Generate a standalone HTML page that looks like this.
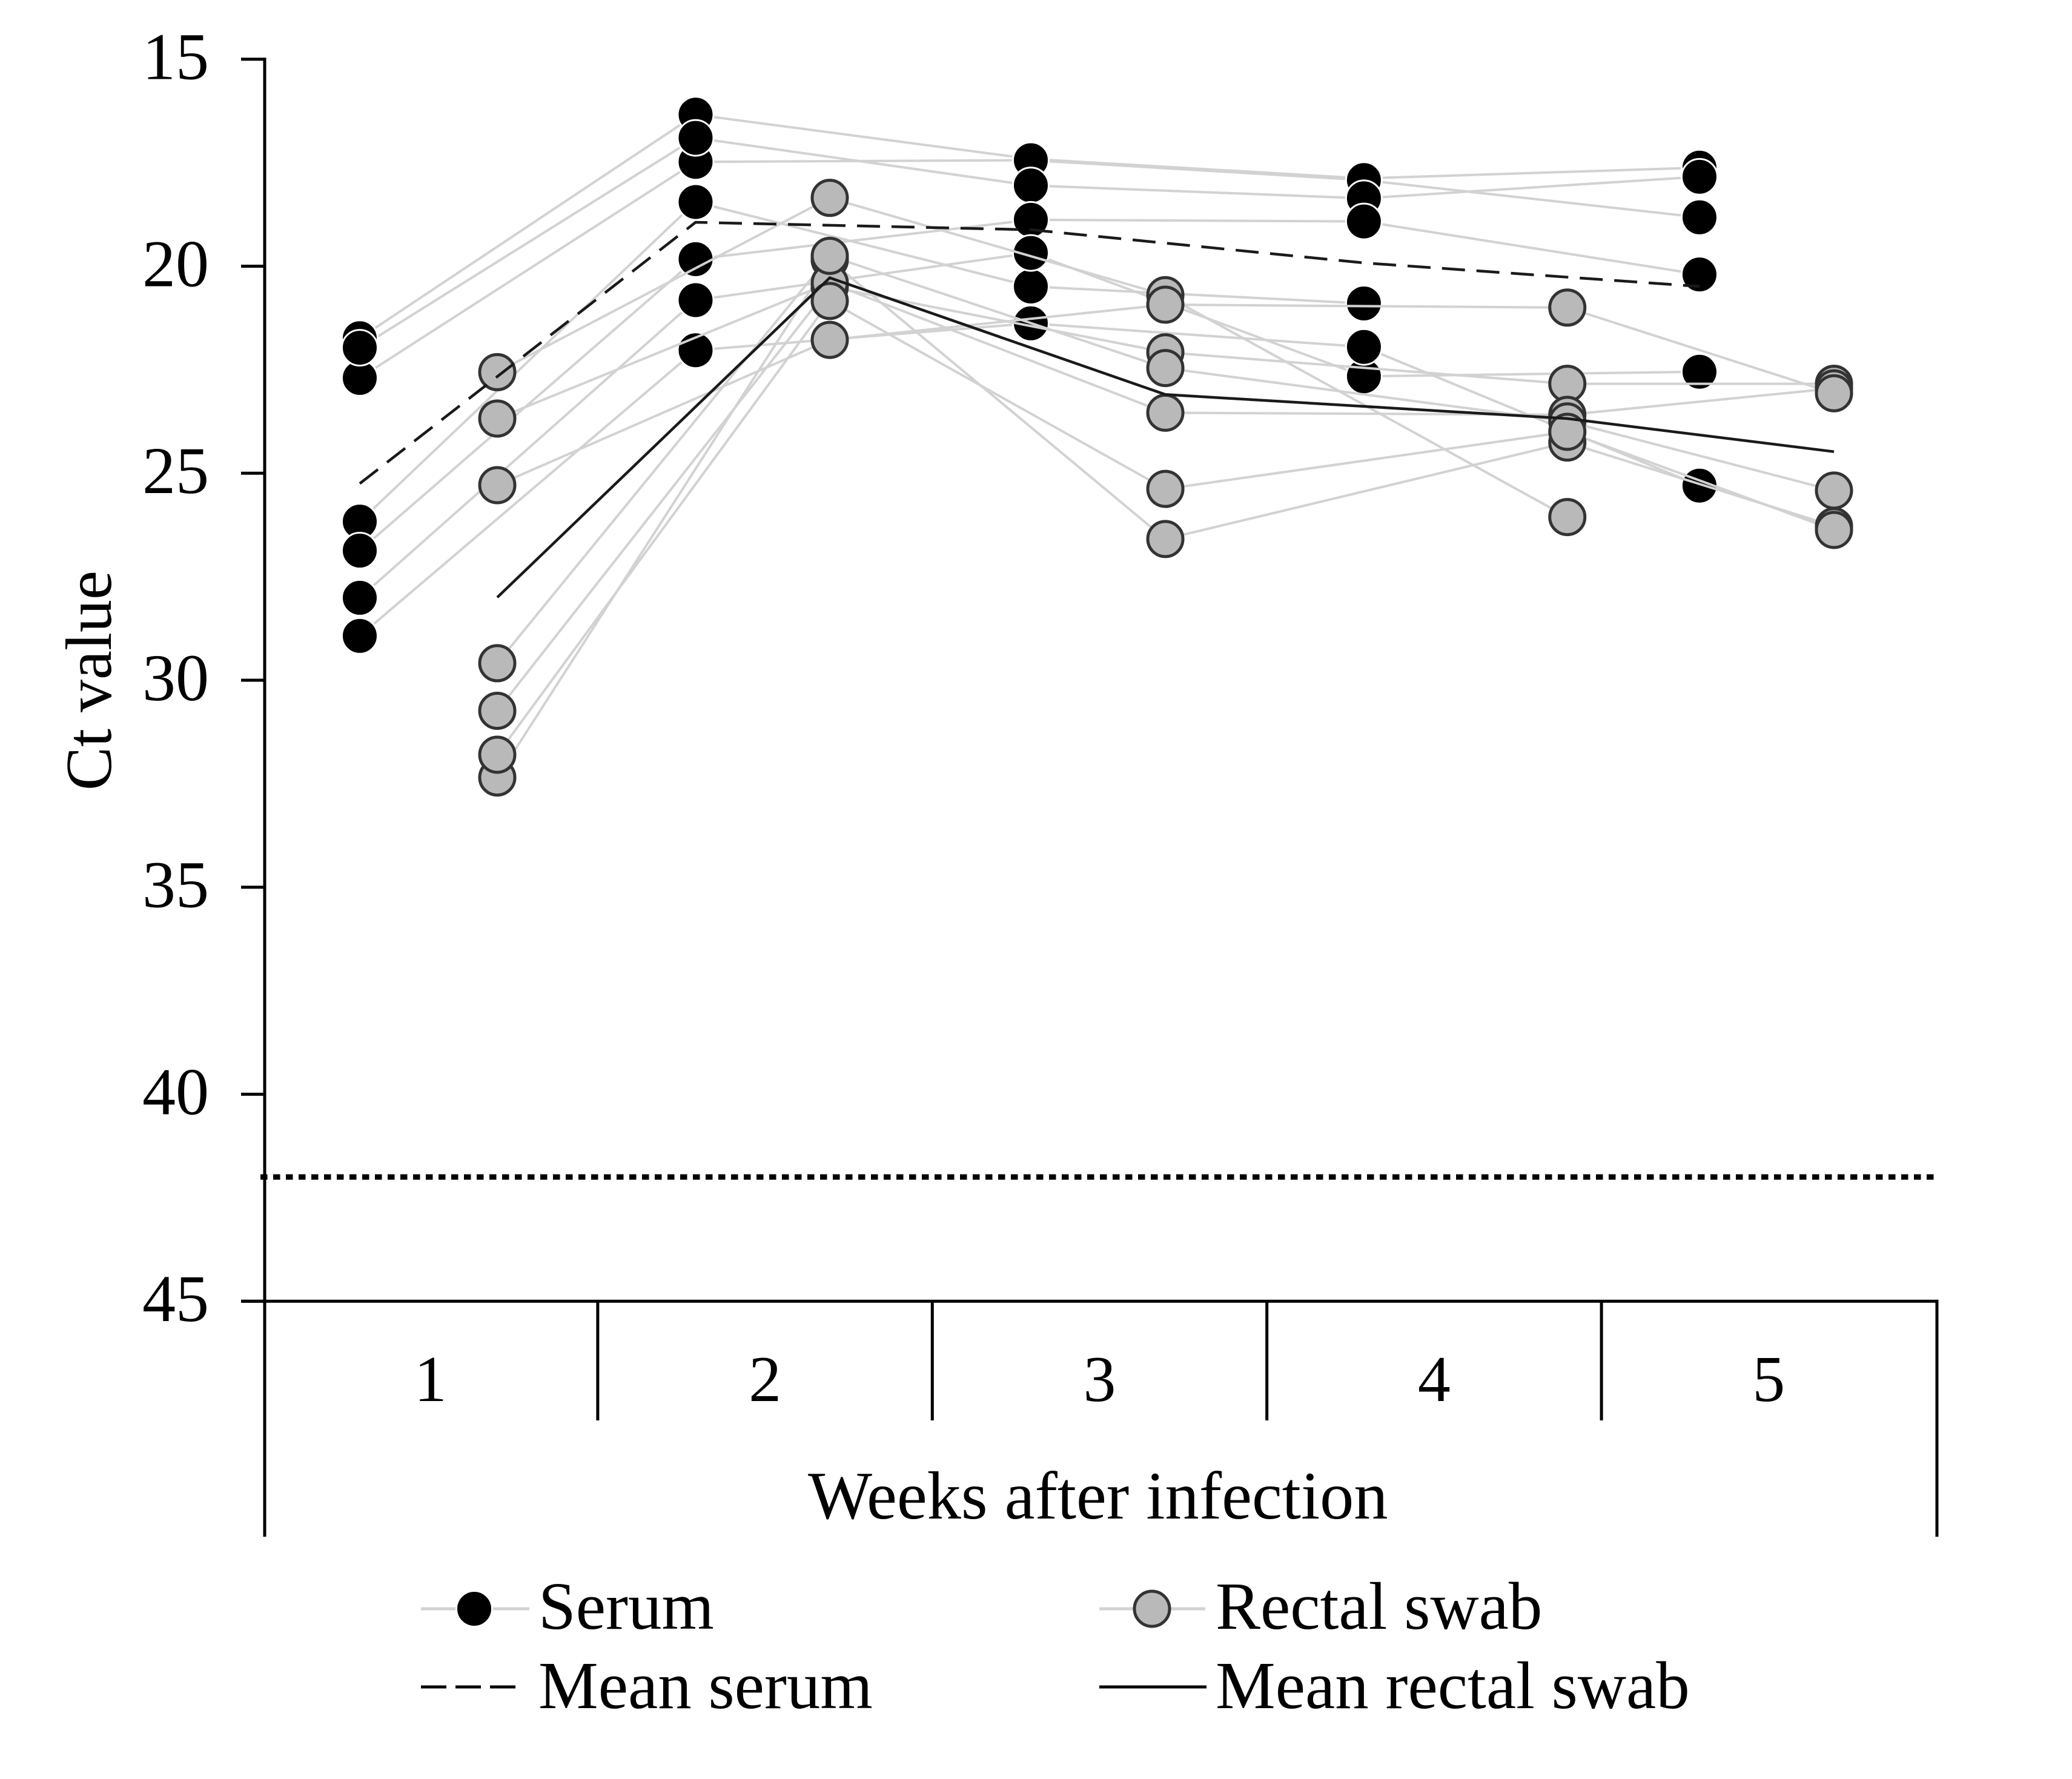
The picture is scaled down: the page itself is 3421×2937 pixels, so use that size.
<!DOCTYPE html>
<html lang="en">
<head>
<meta charset="utf-8">
<title>Ct value by weeks after infection</title>
<style>
html,body{margin:0;padding:0;background:#fff;}
svg{display:block;}
text{font-family:"Liberation Serif",serif;fill:#000;}
</style>
</head>
<body>
<svg id="chart" xmlns="http://www.w3.org/2000/svg" width="3421" height="2937" viewBox="0 0 3421 2937">
  <rect x="0" y="0" width="3421" height="2937" fill="#fff"/>
  <g id="series-layer"></g>
  <g id="axis-layer"></g>
  <text transform="translate(183,1305) rotate(-90)" font-size="108">Ct value</text>
  <text x="1334" y="2507" font-size="112.3">Weeks after infection</text>
  <g>
    <g>
      <line x1="695" x2="874" y1="2656" y2="2656" stroke="#d2d2d2" stroke-width="5"/>
      <circle cx="783" cy="2656" r="29.5" fill="#000" stroke="#fff" stroke-width="3"/>
      <text x="889" y="2689" font-size="111">Serum</text>
    </g>
    <g>
      <line x1="1815" x2="1990" y1="2656" y2="2656" stroke="#d2d2d2" stroke-width="5"/>
      <circle cx="1902" cy="2656" r="29" fill="#b9b9b9" stroke="#333" stroke-width="5"/>
      <text x="2007" y="2689" font-size="111">Rectal swab</text>
    </g>
    <g>
      <line x1="695" x2="852" y1="2785" y2="2785" stroke="#000" stroke-width="5" stroke-dasharray="42 15"/>
      <text x="889" y="2820" font-size="111">Mean serum</text>
    </g>
    <g>
      <line x1="1815" x2="1992" y1="2785" y2="2785" stroke="#000" stroke-width="5"/>
      <text x="2007" y="2820" font-size="111">Mean rectal swab</text>
    </g>
  </g>
</svg>
<script>
const yTickLabels = [15, 20, 25, 30, 35, 40, 45];
const weekLabels = [1, 2, 3, 4, 5];
const detectionLimit = 42;

const serumWeeks = [0.7887, 1.7925, 2.7945, 3.790, 4.793];
const rectalWeeks = [1.1997, 2.1935, 3.1965, 4.398, 5.195];

const serum1 = [21.74, 16.34, 17.41, 17.88, 17.62];
const serum2 = [22.70, 17.48, 17.44, 17.92, 18.82];
const serum3 = [21.97, 16.90, 18.05, 18.36, 17.84];
const serum4 = [26.17, 18.45, 20.49, 20.90, null];
const serum5 = [26.87, 19.83, 18.88, 18.92, 20.20];
const serum6 = [28.01, 20.82, 19.68, 22.66, 22.55];
const serum7 = [28.93, 22.03, 21.38, 21.95, 25.30];

const rectal1 = [22.56, 18.35, 20.70, 26.06, null];
const rectal2 = [23.68, 20.40, 23.54, 23.59, 22.95];
const rectal3 = [25.29, 21.78, 20.93, 21.00, 23.07];
const rectal4 = [29.59, 19.75, 22.46, 23.75, 25.42];
const rectal5 = [30.74, 20.50, 22.08, 22.84, 22.84];
const rectal6 = [31.80, 20.84, 25.38, 24.00, 26.37];
const rectal7 = [32.35, 19.85, 26.59, 24.26, 26.28];

const meanSerum = [25.25, 18.94, 19.12, 19.92, 20.49];
const meanRectal = [28.00, 20.28, 23.10, 23.68, 24.48];

const serumSeries = [serum1, serum2, serum3, serum4, serum5, serum6, serum7];
const rectalSeries = [rectal1, rectal7, rectal5, rectal2, rectal4, rectal3, rectal6];

const NS = 'http://www.w3.org/2000/svg';
const seriesLayer = document.getElementById('series-layer');
const axisLayer = document.getElementById('axis-layer');

function yScale(v) { return 97.7 + (v - 15) * 68.35; }
function xScale(week) { return 434.5 + (week - 0.5) * 552.4; }

function create(tag, parent, attrs) {
  const el = document.createElementNS(NS, tag);
  for (const k in attrs) el.setAttribute(k, attrs[k]);
  parent.appendChild(el);
  return el;
}

function pointsOf(values, weeks) {
  const pts = [];
  values.forEach(function (v, i) {
    if (v !== null) pts.push(xScale(weeks[i]).toFixed(1) + ',' + yScale(v).toFixed(1));
  });
  return pts.join(' ');
}

function drawIndividuals(seriesList, weeks, kind) {
  seriesList.forEach(function (values, s) {
    const line = create('polyline', seriesLayer, {
      points: pointsOf(values, weeks), fill: 'none', stroke: '#d2d2d2', 'stroke-width': 4
    });
    
    
  });
  const isSerum = kind === 'serum';
  seriesList.forEach(function (values, s) {
    values.forEach(function (v, i) {
      if (v === null) return;
      const dot = create('circle', seriesLayer, {
        cx: xScale(weeks[i]), cy: yScale(v), r: isSerum ? 29.5 : 29,
        fill: isSerum ? '#000' : '#b9b9b9',
        stroke: isSerum ? '#fff' : '#333',
        'stroke-width': isSerum ? 3 : 5
      });
      
      
    });
  });
}

drawIndividuals(serumSeries, serumWeeks, 'serum');
drawIndividuals(rectalSeries, rectalWeeks, 'rectal');

const meanSerumLine = create('polyline', seriesLayer, {
  points: pointsOf(meanSerum, serumWeeks), fill: 'none', stroke: '#1a1a1a',
  'stroke-width': 4.5, 'stroke-dasharray': '38 19'
});



const meanRectalLine = create('polyline', seriesLayer, {
  points: pointsOf(meanRectal, rectalWeeks), fill: 'none', stroke: '#1a1a1a', 'stroke-width': 4.5
});



const limitLine = create('line', axisLayer, {
  x1: 430, x2: 3196, y1: yScale(detectionLimit), y2: yScale(detectionLimit),
  stroke: '#000', 'stroke-width': 9, 'stroke-dasharray': '11.5 9.5'
});



const yAxis = create('line', axisLayer, {
  x1: 437, x2: 437, y1: yScale(15) - 2.5, y2: 2537, stroke: '#000', 'stroke-width': 5
});



const rightEdge = create('line', axisLayer, {
  x1: 3198, x2: 3198, y1: yScale(45) - 2.5, y2: 2537, stroke: '#000', 'stroke-width': 5
});



const xAxis = create('line', axisLayer, {
  x1: 398, x2: 3200, y1: yScale(45), y2: yScale(45), stroke: '#000', 'stroke-width': 5
});



yTickLabels.forEach(function (label) {
  const tick = create('line', axisLayer, {
    x1: 398, x2: 437, y1: yScale(label), y2: yScale(label), stroke: '#000', 'stroke-width': 5
  });
  
  
  const text = create('text', axisLayer, {
    x: 345, y: yScale(label) + 33, 'font-size': 110, 'text-anchor': 'end'
  });
  text.textContent = label;
  
  
});

weekLabels.forEach(function (label, i) {
  const text = create('text', axisLayer, {
    x: xScale(label), y: 2313, 'font-size': 108, 'text-anchor': 'middle'
  });
  text.textContent = label;
  
  
  if (i < weekLabels.length - 1) {
    const sep = create('line', axisLayer, {
      x1: xScale(label + 0.5), x2: xScale(label + 0.5), y1: yScale(45), y2: 2345,
      stroke: '#000', 'stroke-width': 5
    });
    
    
  }
});
</script>
</body>
</html>
